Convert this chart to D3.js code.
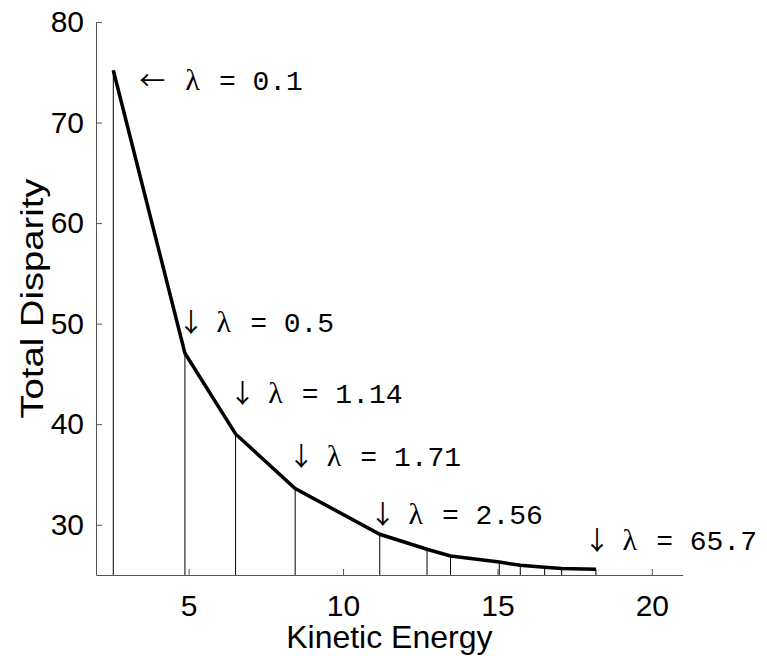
<!DOCTYPE html>
<html>
<head>
<meta charset="utf-8">
<script src="https://cdn.jsdelivr.net/npm/d3@7"></script>
<style>
    body { margin: 0; background: #fff; }
    .axis path, .axis line { stroke: #555; }
    .axis text { font-family: "Liberation Sans", Arial, sans-serif; font-size: 30px; fill: #000; }
</style>
</head>
<body>
<div id="chart"></div>
<script>
// Data
const energy = [2.56, 4.88, 6.52, 8.45, 11.19, 12.72, 13.48, 15.06, 15.74, 16.53, 17.08, 18.19];
const disparity = [75.2, 47.06, 39.03, 33.6, 29.05, 27.56, 26.89, 26.29, 25.96, 25.77, 25.65, 25.57];
const lambdaLabels = ['0.1', '0.5', '1.14', '1.71', '2.56', '65.7'];
const labelPoints = [0, 1, 2, 3, 4, 11];
const xTicks = [5, 10, 15, 20];
const yTicks = [30, 40, 50, 60, 70, 80];

function draw() {
    const dataSet = energy.map((e, i) => ({ energy: e, disparity: disparity[i] }));
    const xAccessor = d => d.energy;
    const yAccessor = d => d.disparity;

    // Dimensions
    let dimensions = {
        width: 767,
        height: 656,
        margin: { top: 22, bottom: 81, left: 96, right: 84.3 }
    };
    dimensions.ctrWidth = dimensions.width - dimensions.margin.left - dimensions.margin.right;
    dimensions.ctrHeight = dimensions.height - dimensions.margin.top - dimensions.margin.bottom;

    // Scales
    const xScale = d3.scaleLinear()
        .domain([2, 21])
        .range([0, dimensions.ctrWidth]);

    const yScale = d3.scaleLinear()
        .domain([25, 80])
        .range([dimensions.ctrHeight, 0]);

    const svg = d3.select('#chart')
        .append('svg')
        .attr('width', dimensions.width)
        .attr('height', dimensions.height);

    const ctr = svg.append('g')
        .attr('transform', `translate(${dimensions.margin.left},${dimensions.margin.top})`);

    // Axes (ticks point inwards)
    const xAxis = d3.axisBottom(xScale)
        .tickValues(xTicks)
        .tickSizeInner(-6)
        .tickSizeOuter(0)
        .tickPadding(20);

    const xAxisGroup = ctr.append('g')
        .attr('transform', `translate(0,${dimensions.ctrHeight})`)
        .call(xAxis)
        .classed('axis', true);

    xAxisGroup.append('text')
        .attr('x', dimensions.ctrWidth / 2)
        .attr('y', 73)
        .attr('text-anchor', 'middle')
        .style('font-size', '32px')
        .text('Kinetic Energy');

    const yAxis = d3.axisLeft(yScale)
        .tickValues(yTicks)
        .tickSizeInner(-6)
        .tickSizeOuter(0)
        .tickPadding(12);

    const yAxisGroup = ctr.append('g')
        .call(yAxis)
        .classed('axis', true);

    yAxisGroup.append('text')
        .attr('transform', `translate(-53,${dimensions.ctrHeight / 2}) rotate(-90)`)
        .attr('text-anchor', 'middle')
        .attr('textLength', 240)
        .attr('lengthAdjust', 'spacingAndGlyphs')
        .style('font-size', '31px')
        .text('Total Disparity');

    // Drop lines from each point to the x axis
    ctr.append('g')
        .selectAll('line')
        .data(dataSet)
        .join('line')
        .attr('x1', d => xScale(xAccessor(d)))
        .attr('x2', d => xScale(xAccessor(d)))
        .attr('y1', d => yScale(yAccessor(d)))
        .attr('y2', dimensions.ctrHeight)
        .attr('stroke', '#000')
        .attr('stroke-width', 1);

    // Curve
    const line = d3.line()
        .x(d => xScale(xAccessor(d)))
        .y(d => yScale(yAccessor(d)));

    ctr.append('path')
        .datum(dataSet)
        .attr('d', line)
        .attr('fill', 'none')
        .attr('stroke', '#000')
        .attr('stroke-width', 3.5)
        .attr('stroke-linejoin', 'miter');

    // Lambda labels, offsets in pixels from the point they refer to
    const offsets = [[27, 20], [-2, -21], [-1, -31], [-2, -23], [-5, -10], [-7, -19]];
    const adv = 16.8; // monospace advance
    const labelX = (p, i) => xScale(xAccessor(dataSet[p])) + offsets[i][0];
    const lambdaX = (p, i) => labelX(p, i) + (i === 0 ? 45 : 2 * adv);

    const labels = ctr.append('g')
        .selectAll('text')
        .data(labelPoints)
        .join('text')
        .attr('y', (p, i) => yScale(yAccessor(dataSet[p])) + offsets[i][1])
        .style('font-family', '"Liberation Mono", "DejaVu Sans Mono", monospace')
        .style('font-size', '28px');

    labels.append('tspan')
        .attr('x', (p, i) => labelX(p, i) - (i === 0 ? 1 : 5))
        .style('font-family', '"Noto Sans CJK JP", "DejaVu Sans", sans-serif')
        .style('font-size', '26px')
        .text((p, i) => i === 0 ? '\u2190' : '\u2193');
    labels.append('tspan')
        .attr('x', lambdaX)
        .style('font-family', '"Liberation Serif", serif')
        .style('font-size', '30px')
        .text('\u03bb');
    labels.append('tspan')
        .attr('x', (p, i) => lambdaX(p, i) + 2 * adv)
        .text((p, i) => `= ${lambdaLabels[i]}`);
}

draw();
</script>
</body>
</html>
